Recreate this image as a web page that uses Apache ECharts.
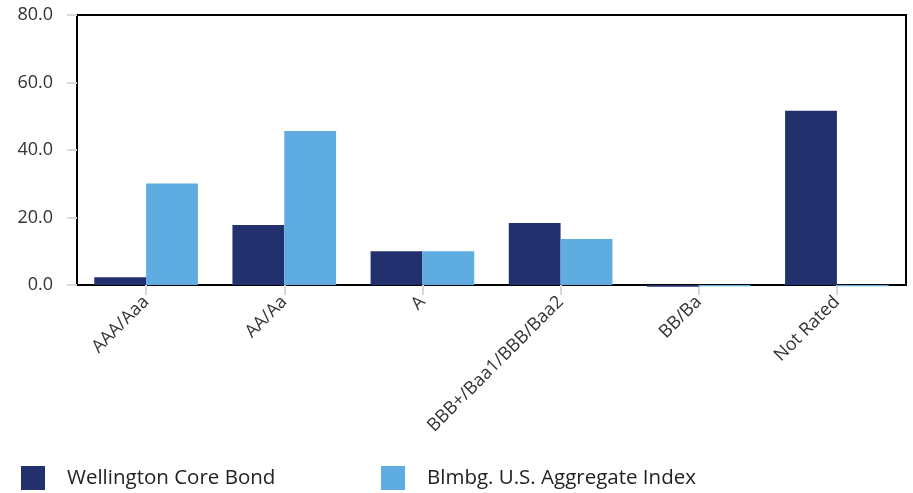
<!DOCTYPE html>
<html>
<head>
<meta charset="utf-8">
<script src="https://cdn.jsdelivr.net/npm/echarts@6/dist/echarts.min.js"></script>
<style>html,body{margin:0;padding:0;background:#fff;}#c{width:913px;height:493px;}</style>
</head>
<body>
<div id="c"></div>
<script>
var categories = ['AAA/Aaa', 'AA/Aa', 'A', 'BBB+/Baa1/BBB/Baa2', 'BB/Ba', 'Not Rated'];
var wellington = [2.3, 17.8, 10.0, 18.4, -0.5, 51.6];
var bloomberg = [30.1, 45.6, 10.0, 13.6, -0.4, -0.4];
var yTicks = [0, 20, 40, 60, 80];

var chart = echarts.init(document.getElementById('c'), null, {renderer: 'canvas'});
var font = '"Open Sans", sans-serif';
chart.setOption({
  animation: false,
  grid: {left: 77, right: 7, top: 15, bottom: 208, show: true, borderColor: '#000', borderWidth: 2, backgroundColor: 'transparent'},
  legend: [
    {left: 16, top: 461, itemWidth: 24, itemHeight: 24, icon: 'rect', data: ['Wellington Core Bond'],
     textStyle: {fontFamily: font, fontSize: 20.5, color: '#222', padding: [0, 0, 0, 17]}},
    {left: 376, top: 461, itemWidth: 24, itemHeight: 24, icon: 'rect', data: ['Blmbg. U.S. Aggregate Index'],
     textStyle: {fontFamily: font, fontSize: 20.5, color: '#222', padding: [0, 0, 0, 17]}}
  ],
  xAxis: {
    type: 'category', data: categories,
    axisLine: {show: true, onZero: true, lineStyle: {color: '#000', width: 2}},
    axisTick: {show: true, alignWithLabel: true, length: 10, lineStyle: {color: '#d9d9d9', width: 2}},
    axisLabel: {rotate: 45, interval: 0, margin: 14, fontFamily: font, fontSize: 18, color: '#333'},
    splitLine: {show: false}
  },
  yAxis: {
    type: 'value', min: yTicks[0], max: yTicks[yTicks.length - 1], interval: 20,
    axisLine: {show: true, lineStyle: {color: '#000', width: 2}},
    axisTick: {show: true, length: 10, lineStyle: {color: '#d9d9d9', width: 2}},
    axisLabel: {margin: 24, fontFamily: font, fontSize: 18, color: '#333', formatter: function (v) { return v.toFixed(1); }},
    splitLine: {show: false}
  },
  series: [
    {name: 'Wellington Core Bond', type: 'bar', data: wellington, barGap: '0%', barCategoryGap: '25%', clip: false,
     itemStyle: {color: '#22306e'}},
    {name: 'Blmbg. U.S. Aggregate Index', type: 'bar', data: bloomberg, barGap: '0%', barCategoryGap: '25%', clip: false,
     itemStyle: {color: '#5eace0'}}
  ]
});
</script>
</body>
</html>
